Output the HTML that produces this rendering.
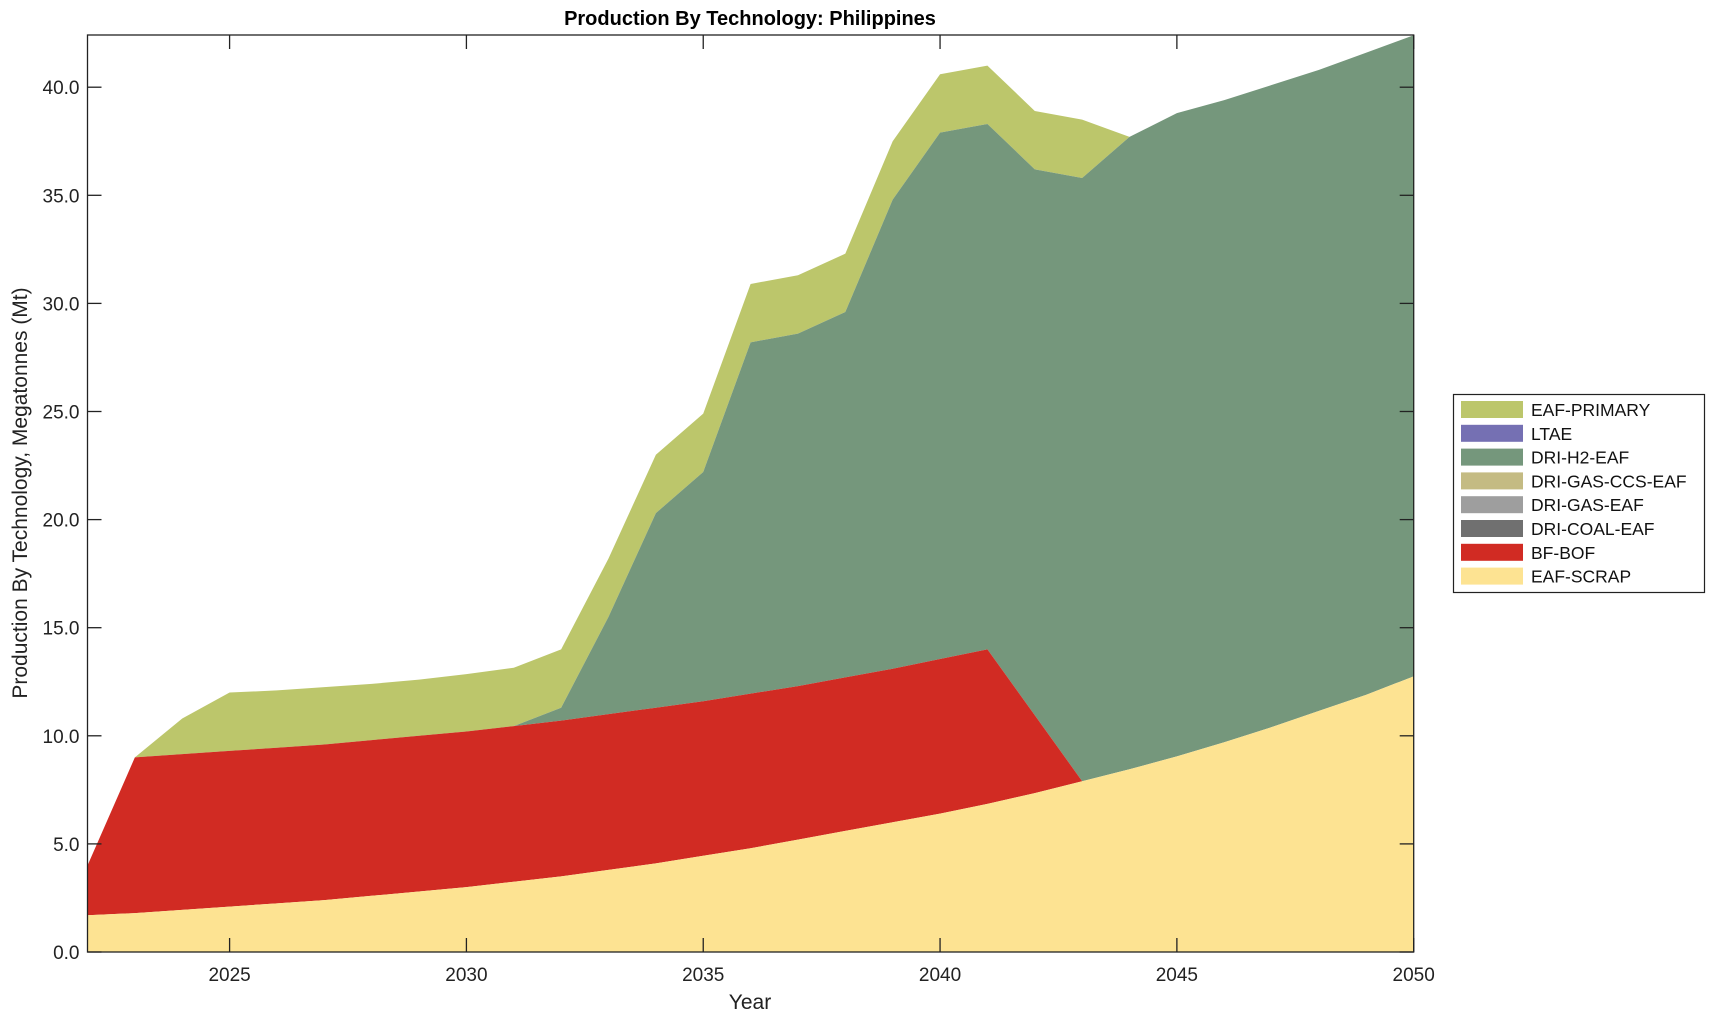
<!DOCTYPE html>
<html><head><meta charset="utf-8"><style>
body{margin:0;background:#fff;}
svg{display:block;font-family:"Liberation Sans",Arial,sans-serif;}
</style></head><body>
<svg id="s" width="1715" height="1020" xmlns="http://www.w3.org/2000/svg">
<rect width="1715" height="1020" fill="#fff"/>
<g id="areas"></g>
<g id="axes"></g>
<text x="750" y="25" text-anchor="middle" font-size="20" font-weight="bold" fill="#000">Production By Technology: Philippines</text>
<text x="750" y="1009" text-anchor="middle" font-size="21" fill="#222">Year</text>
<text transform="translate(27,493) rotate(-90)" text-anchor="middle" font-size="21" fill="#222">Production By Technology, Megatonnes (Mt)</text>
<g id="leg"></g>
</svg>
<script>
const L=87.5,R=1413.7,B=952,T=35;
const X=y=>L+(y-2022)*(R-L)/28, Y=v=>B-v*21.62;
const scrap=[1.7,1.8,1.95,2.1,2.25,2.4,2.6,2.8,3.0,3.25,3.5,3.8,4.1,4.45,4.8,5.2,5.6,6.0,6.4,6.85,7.35,7.9,8.45,9.05,9.7,10.4,11.15,11.9,12.75];
const bf=[4.0,9.0,9.15,9.3,9.45,9.6,9.8,10.0,10.2,10.45,10.7,11.0,11.3,11.6,11.95,12.3,12.7,13.1,13.55,14.0,10.95,7.9];
for(let i=22;i<29;i++){bf[i]=scrap[i];}
const h2=bf.slice(0,10).concat([11.3,15.5,20.3,22.2,28.2,28.6,29.6,34.8,37.9,38.3,36.2,35.8,37.7,38.8,39.4,40.1,40.8,41.6,42.4]);
const tot=[4.0,9.0,10.8,12.0,12.1,12.25,12.4,12.6,12.85,13.15,14.0,18.2,23.0,24.9,30.9,31.3,32.3,37.5,40.6,41.0,38.9,38.5].concat(h2.slice(22));
function poly(top,bot,c){let p=[];for(let i=0;i<29;i++)p.push(X(2022+i)+','+Y(top[i]));for(let i=28;i>=0;i--)p.push(X(2022+i)+','+(bot?Y(bot[i]):B));return `<polygon points="${p.join(' ')}" fill="${c}"/>`;}
document.getElementById('areas').innerHTML=poly(tot,h2,'#bcc66b')+poly(h2,bf,'#75977c')+poly(bf,scrap,'#d12b23')+poly(scrap,null,'#fde392');
let a=`<rect x="${L}" y="${T}" width="${R-L}" height="${B-T}" fill="none" stroke="#222" stroke-width="1.3"/>`;
for(let v=0;v<=40;v+=5){const y=Y(v);a+=`<line x1="${L}" y1="${y}" x2="${L+14}" y2="${y}" stroke="#222" stroke-width="1.3"/><line x1="${R}" y1="${y}" x2="${R-14}" y2="${y}" stroke="#222" stroke-width="1.3"/><text x="${L-8}" y="${y+7}" text-anchor="end" font-size="19" fill="#222">${v.toFixed(1)}</text>`;}
for(let yr=2025;yr<=2050;yr+=5){const x=X(yr);a+=`<line x1="${x}" y1="${B}" x2="${x}" y2="${B-14}" stroke="#222" stroke-width="1.3"/><line x1="${x}" y1="${T}" x2="${x}" y2="${T+14}" stroke="#222" stroke-width="1.3"/><text x="${x}" y="${B+29}" text-anchor="middle" font-size="19" fill="#222">${yr}</text>`;}
document.getElementById('axes').innerHTML=a;
const items=[['EAF-PRIMARY','#bcc66b'],['LTAE','#7570b3'],['DRI-H2-EAF','#75977c'],['DRI-GAS-CCS-EAF','#c4bb83'],['DRI-GAS-EAF','#9e9e9e'],['DRI-COAL-EAF','#707070'],['BF-BOF','#d12b23'],['EAF-SCRAP','#fde392']];
let g=`<rect x="1453.5" y="394.5" width="251" height="198" fill="#fff" stroke="#222" stroke-width="1.2"/>`;
items.forEach((it,i)=>{const y=401+i*23.8;g+=`<rect x="1461" y="${y}" width="62" height="17" fill="${it[1]}"/><text x="1531" y="${y+15}" font-size="17.5" fill="#111">${it[0]}</text>`;});
document.getElementById('leg').innerHTML=g;
</script>
</body></html>
